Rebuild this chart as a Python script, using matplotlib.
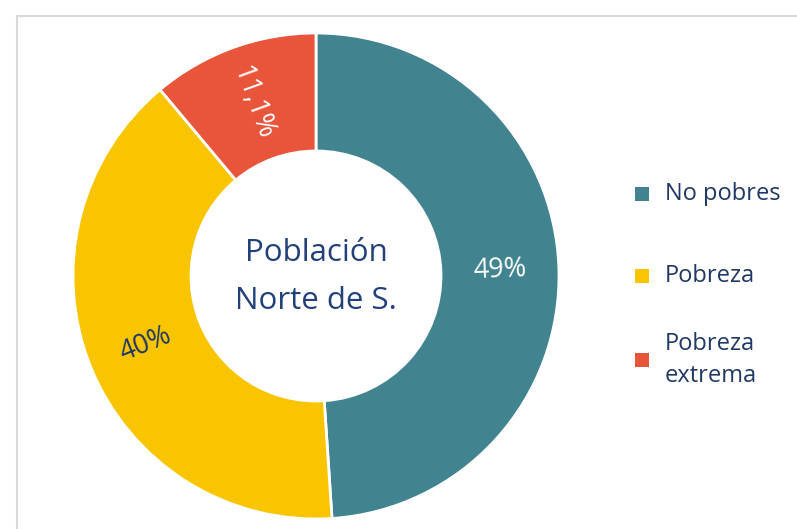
import numpy as np
import matplotlib
matplotlib.use("Agg")
import matplotlib.pyplot as plt
from matplotlib.patches import Rectangle

categories = ["No pobres", "Pobreza", "Pobreza\nextrema"]
values = [49, 40, 11.1]
value_labels = ["49%", "40%", "11,1%"]
colors = ["#41848F", "#F9C500", "#E8553A"]
label_colors = ["white", "#1F3864", "white"]
center_title = "Población\nNorte de S."

plt.rcParams['font.family'] = ['Open Sans', 'DejaVu Sans']
navy = "#1F3864"

fig = plt.figure(figsize=(7.97, 5.29), dpi=100)
fig.patch.set_facecolor("white")

# outer frame
fig.patches.append(Rectangle((17/797, -0.1), 1.2, (529-16)/529 + 0.1,
                             transform=fig.transFigure, fill=False,
                             edgecolor="#D9D9D9", linewidth=1.5))

ax = fig.add_axes([73/797, 10/529, 486/797, 486/529])

inner = 125/243
width = 1 - inner
wedges, _ = ax.pie(values, colors=colors, startangle=90, counterclock=False,
                   radius=1, normalize=True,
                   wedgeprops=dict(width=width, edgecolor="white", linewidth=2))
ax.set_xlim(-1, 1)
ax.set_ylim(-1, 1)
ax.set_aspect("equal")
ax.axis("off")

total = sum(values)
r_mid = (1 + inner) / 2
ang = 90.0
for v, lab, col in zip(values, value_labels, label_colors):
    span = 360 * v / total
    mid = ang - span / 2
    ang -= span
    x = r_mid * np.cos(np.radians(mid))
    y = r_mid * np.sin(np.radians(mid))
    rot = mid
    if np.cos(np.radians(mid)) < 0:
        rot = mid - 180
    rot = (rot + 180) % 360 - 180
    ax.text(x, y, lab, color=col, fontsize=19.5, ha="center", va="center",
            rotation=rot, rotation_mode="anchor")

ax.text(0, -0.005, center_title, ha="center", va="center", fontsize=22.5,
        color="#22407A", linespacing=1.8)

# legend
leg_y = [194, 276, 360]
for cat, col, yy in zip(categories, colors, leg_y):
    fy = 1 - yy/529
    fig.patches.append(Rectangle((635/797, fy - 7/529), 14/797, 14/529,
                                 transform=fig.transFigure, facecolor=col,
                                 edgecolor="none"))
    fig.text(665/797, fy, cat, ha="left", va="center", fontsize=17,
             color=navy, linespacing=1.5)

fig.savefig("out.png", dpi=100, facecolor="white")
